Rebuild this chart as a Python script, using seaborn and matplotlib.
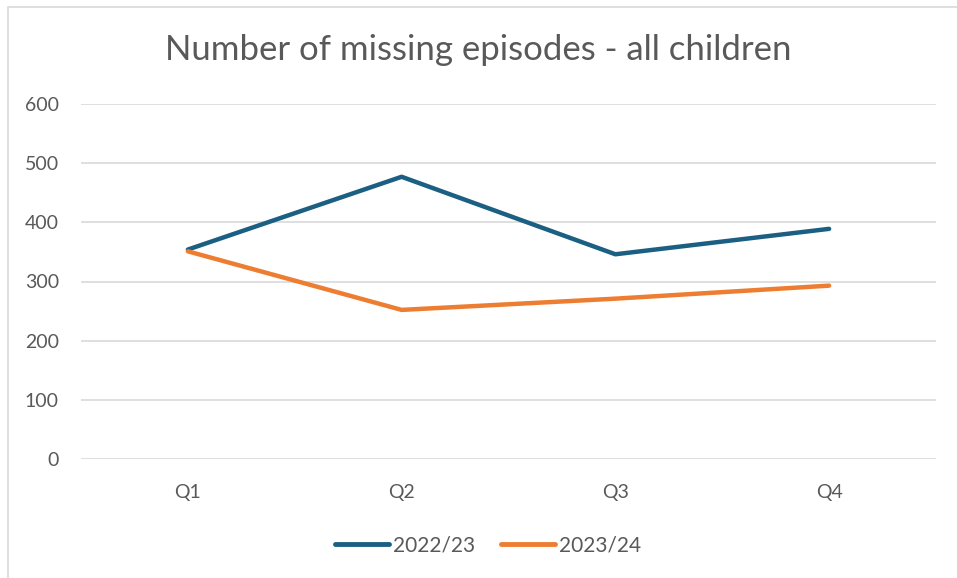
import pandas as pd
import matplotlib.pyplot as plt
import seaborn as sns
from matplotlib.patches import Rectangle

quarters = ['Q1', 'Q2', 'Q3', 'Q4']
episodes_2223 = [354, 477, 346, 389]
episodes_2324 = [351, 252, 271, 293]
series_names = ['2022/23', '2023/24']
y_ticks = [0, 100, 200, 300, 400, 500, 600]

# long format for seaborn
df = pd.DataFrame({
    'quarter': quarters * 2,
    'episodes': episodes_2223 + episodes_2324,
    'year': [series_names[0]] * 4 + [series_names[1]] * 4,
})
df['pos'] = df['quarter'].map({q: i for i, q in enumerate(quarters)})

sns.set_style('white')
plt.rcParams['font.family'] = ['Lato', 'DejaVu Sans']
text_col = '#595959'

fig = plt.figure(figsize=(9.57, 5.78), dpi=100)
ax = fig.add_axes([81 / 957, 1 - 459 / 578, (936 - 81) / 957, (459 - 104) / 578])

# chart border
fig.patches.append(Rectangle((8 / 957, -0.01), 1.0, 1 - 7 / 578 + 0.01, transform=fig.transFigure,
                             fill=False, edgecolor='#d9d9d9', linewidth=1.2))

sns.lineplot(data=df, x='pos', y='episodes', hue='year', ax=ax,
             palette=['#1b5f82', '#ed7d31'], linewidth=3.2, legend=False,
             solid_capstyle='round')

ax.set_xlim(-0.5, 3.5)
ax.set_ylim(0, 600)
ax.set_yticks(y_ticks)
ax.set_xticks(range(4))
ax.set_xticklabels(quarters)
ax.yaxis.grid(True, color='#d9d9d9', linewidth=1.2)
ax.set_axisbelow(True)
for s in ax.spines.values():
    s.set_visible(False)
ax.tick_params(axis='both', length=0, labelsize=14, colors=text_col)
ax.tick_params(axis='y', pad=16)
ax.tick_params(axis='x', pad=18)
ax.set_xlabel('')
ax.set_ylabel('')

fig.text(0.5, 1 - 50 / 578, 'Number of missing episodes - all children', ha='center', va='center',
         fontsize=25, color=text_col)

handles = [plt.Line2D([], [], color='#1b5f82', lw=3.5, solid_capstyle='round'),
           plt.Line2D([], [], color='#ed7d31', lw=3.5, solid_capstyle='round')]
fig.legend(handles, series_names, loc='center', bbox_to_anchor=(488 / 957, 1 - 545 / 578), ncol=2,
           frameon=False, fontsize=15, labelcolor=text_col, handlelength=2.6, handletextpad=0.2,
           columnspacing=1.2)

fig.savefig('out.png', dpi=100)
